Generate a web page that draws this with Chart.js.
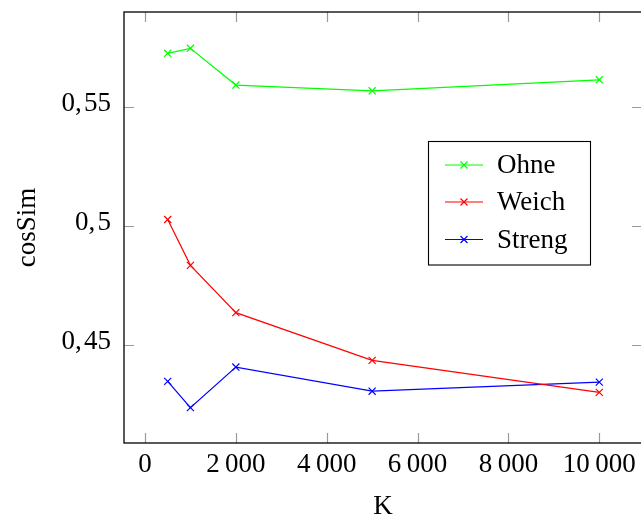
<!DOCTYPE html>
<html><head><meta charset="utf-8">
<script src="https://cdn.jsdelivr.net/npm/chart.js@4"></script>
<style>html,body{margin:0;padding:0;overflow:hidden;background:#fff;width:641px;height:520px}
#wrap{position:absolute;left:0;top:0;width:650px;height:520px}</style>
</head><body><div id="wrap"><canvas id="c" width="650" height="520"></canvas></div>
<script>
const kValues = [500, 1000, 2000, 5000, 10000];
const ohne = [0.5723, 0.5744, 0.5590, 0.5566, 0.5612];
const weich = [0.5027, 0.4835, 0.4637, 0.4437, 0.4303];
const streng = [0.4349, 0.4239, 0.4409, 0.4308, 0.4346];
const seriesNames = ['Ohne', 'Weich', 'Streng'];
const seriesColors = ['#00ff00', '#ff0000', '#0000ff'];
const xTickValues = [0, 2000, 4000, 6000, 8000, 10000];
const xTickLabels = ['0', '2\u2009000', '4\u2009000', '6\u2009000', '8\u2009000', '10\u2009000'];
const yTickValues = [0.45, 0.5, 0.55];
const yTickLabels = ['0,\u200A45', '0,\u200A5', '0,\u200A55'];
const xTitle = 'K';
const yTitle = 'cosSim';

const FONT = "'Liberation Serif', 'DejaVu Serif', serif";
const FS = 27;

function mk(vals) { return vals.map((v, i) => ({ x: kValues[i], y: v })); }
const seriesValues = [ohne, weich, streng];

const framePlugin = {
  id: 'frame',
  afterDraw(chart) {
    const ctx = chart.ctx, a = chart.chartArea;
    const xs = chart.scales.x, ys = chart.scales.y;
    ctx.save();
    ctx.strokeStyle = '#9a9a9a';
    ctx.lineWidth = 1.2;
    const TL = 10;
    xTickValues.forEach(v => {
      const px = Math.round(xs.getPixelForValue(v)) + 0.5;
      ctx.beginPath();
      ctx.moveTo(px, a.bottom); ctx.lineTo(px, a.bottom - TL);
      ctx.moveTo(px, a.top); ctx.lineTo(px, a.top + TL);
      ctx.stroke();
    });
    yTickValues.forEach(v => {
      const py = Math.round(ys.getPixelForValue(v)) + 0.5;
      ctx.beginPath();
      ctx.moveTo(a.left, py); ctx.lineTo(a.left + TL, py);
      ctx.moveTo(a.right, py); ctx.lineTo(a.right - TL, py);
      ctx.stroke();
    });
    ctx.strokeStyle = '#000';
    ctx.lineWidth = 1.3;
    ctx.strokeRect(a.left, a.top, a.right - a.left, a.bottom - a.top);
    const lx = 428.5, ly = 141.5, lw = 162, lh = 123.5;
    ctx.fillStyle = '#fff';
    ctx.fillRect(lx, ly, lw, lh);
    ctx.strokeStyle = '#000';
    ctx.lineWidth = 1.1;
    ctx.strokeRect(lx, ly, lw, lh);
    const rows = [165, 202, 239.5];
    ctx.font = FS + 'px ' + FONT;
    ctx.textBaseline = 'middle';
    ctx.textAlign = 'left';
    seriesNames.forEach((n, i) => {
      const y = rows[i];
      ctx.strokeStyle = seriesColors[i];
      ctx.lineWidth = 1.2;
      ctx.beginPath();
      ctx.moveTo(445, y); ctx.lineTo(483, y);
      ctx.stroke();
      const cx = 464, r = 3.5;
      ctx.beginPath();
      ctx.moveTo(cx - r, y - r); ctx.lineTo(cx + r, y + r);
      ctx.moveTo(cx - r, y + r); ctx.lineTo(cx + r, y - r);
      ctx.stroke();
      ctx.fillStyle = '#000';
      ctx.fillText(n, 497, y + 1);
    });
    ctx.restore();
  }
};

new Chart(document.getElementById('c'), {
  type: 'line',
  data: {
    datasets: seriesNames.map((n, i) => ({
      label: n,
      data: mk(seriesValues[i]),
      borderColor: seriesColors[i],
      backgroundColor: seriesColors[i],
      borderWidth: 1.2,
      pointStyle: 'crossRot',
      pointRadius: 5,
      pointBorderWidth: 1.2,
      pointHoverRadius: 5,
      tension: 0,
      fill: false
    }))
  },
  options: {
    responsive: false,
    animation: false,
    devicePixelRatio: 1,
    layout: { padding: { top: 12, right: 8, left: 0, bottom: 0 } },
    plugins: { legend: { display: false }, tooltip: { enabled: false } },
    scales: {
      x: {
        type: 'linear',
        min: -462, max: 10940,
        afterBuildTicks: s => { s.ticks = xTickValues.map(v => ({ value: v })); },
        afterFit: s => { s.height = 77; s.paddingLeft = 0; s.paddingRight = 0; },
        grid: { display: false, drawTicks: false },
        border: { display: false },
        ticks: {
          autoSkip: false, maxRotation: 0,
          padding: 6,
          color: '#000',
          font: { family: FONT, size: FS },
          callback: v => { const i = xTickValues.indexOf(v); return i >= 0 ? xTickLabels[i] : ''; }
        },
        title: { display: true, text: xTitle, color: '#000', font: { family: FONT, size: FS }, padding: { top: 0, bottom: -3 } }
      },
      y: {
        type: 'linear',
        min: 0.4091, max: 0.5896,
        afterBuildTicks: s => { s.ticks = yTickValues.map(v => ({ value: v })); },
        afterFit: s => { s.width = 124; s.paddingTop = 0; s.paddingBottom = 0; },
        grid: { display: false, drawTicks: false },
        border: { display: false },
        ticks: {
          autoSkip: false,
          padding: 13,
          labelOffset: -3,
          color: '#000',
          font: { family: FONT, size: FS },
          callback: v => { const i = yTickValues.findIndex(t => Math.abs(t - v) < 1e-9); return i >= 0 ? yTickLabels[i] : ''; }
        },
        title: { display: true, text: yTitle, color: '#000', font: { family: FONT, size: FS }, padding: { top: 12, bottom: 0 } }
      }
    }
  },
  plugins: [framePlugin]
});
</script></body></html>
